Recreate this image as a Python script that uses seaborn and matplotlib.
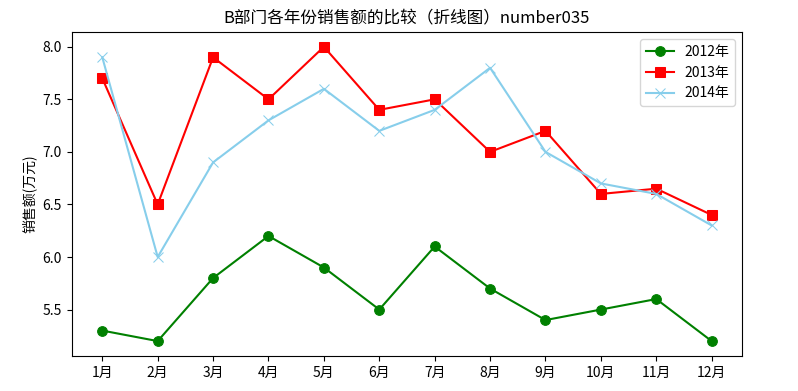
import pandas as pd
import seaborn as sns
import matplotlib
matplotlib.use("Agg")
import matplotlib.pyplot as plt

plt.rcParams["font.family"] = ["Noto Sans CJK SC", "DejaVu Sans"]
plt.rcParams["axes.unicode_minus"] = False

MONTHS = ["1月", "2月", "3月", "4月", "5月", "6月",
          "7月", "8月", "9月", "10月", "11月", "12月"]
SALES_2012 = [5.3, 5.2, 5.8, 6.2, 5.9, 5.5, 6.1, 5.7, 5.4, 5.5, 5.6, 5.2]
SALES_2013 = [7.7, 6.5, 7.9, 7.5, 8.0, 7.4, 7.5, 7.0, 7.2, 6.6, 6.65, 6.4]
SALES_2014 = [7.9, 6.0, 6.9, 7.3, 7.6, 7.2, 7.4, 7.8, 7.0, 6.7, 6.6, 6.3]

SERIES = [
    ("2012年", SALES_2012, "green", "o"),
    ("2013年", SALES_2013, "red", "s"),
    ("2014年", SALES_2014, "skyblue", "x"),
]

fig = plt.figure(figsize=(7.98, 3.91), dpi=100)
ax = fig.add_axes([0.090, 0.090, 0.840, 0.828])

idx = list(range(len(MONTHS)))
for label, vals, color, marker in SERIES:
    df = pd.DataFrame({"month": idx, "sales": vals})
    sns.lineplot(data=df, x="month", y="sales", color=color, marker=marker,
                 markersize=7, markeredgecolor=color, linewidth=1.5,
                 label=label, ax=ax)

ax.set_xticks(idx)
ax.set_xticklabels(MONTHS)
ax.set_xlabel("")
ax.set_ylabel("销售额(万元)")
ax.set_title("B部门各年份销售额的比较（折线图）number035")
ax.legend(loc="upper right")

fig.savefig("out.png", dpi=100)
